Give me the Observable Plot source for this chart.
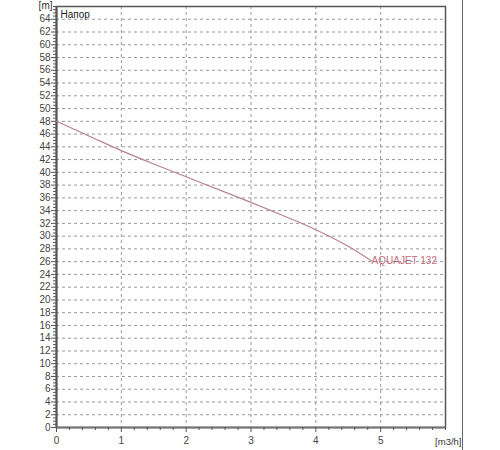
<!DOCTYPE html>
<html>
<head>
<meta charset="utf-8">
<script src="https://cdn.jsdelivr.net/npm/d3@7"></script>
<script src="https://cdn.jsdelivr.net/npm/@observablehq/plot@0.6"></script>
<style>
  html, body { margin: 0; padding: 0; background: #fff; }
  #wrap { position: relative; width: 500px; height: 450px; }
  #edge { position: absolute; left: 462px; top: 0; width: 0; height: 450px; border-left: 1.5px solid #666; }
</style>
</head>
<body>
<div id="wrap"><div id="edge"></div></div>
<script>
// Data
const flow = [0, 0.5, 1, 1.5, 2, 2.5, 3, 3.5, 4, 4.5, 4.86];
const head = [48, 45.7, 43.4, 41.3, 39.3, 37.3, 35.3, 33.2, 31.0, 28.4, 26.1];
const seriesName = "AQUAJET 132";
const yTicks = [0,2,4,6,8,10,12,14,16,18,20,22,24,26,28,30,32,34,36,38,40,42,44,46,48,50,52,54,56,58,60,62,64];
const xTicks = [0, 1, 2, 3, 4, 5];
const yLabel = "[m]";
const xLabel = "[m3/h]";
const chartTitle = "Напор";

const curve = flow.map((q, i) => ({q, h: head[i]}));
const yMinor = d3.range(0, 66.01, 0.5).filter(v => !yTicks.includes(v));
const xMinor = d3.range(0, 6.01, 0.2).map(v => +v.toFixed(2)).filter(v => !xTicks.includes(v));

const font = "Liberation Sans, Arial, sans-serif";
const chart = Plot.plot({
  width: 500,
  height: 450,
  marginLeft: 56,
  marginRight: 55,
  marginTop: 6,
  marginBottom: 23,
  style: {fontFamily: font, fontSize: "10px", color: "#333", background: "transparent"},
  x: {domain: [0, 6], label: null},
  y: {domain: [0, 66], label: null},
  marks: [
    Plot.ruleX(xTicks.filter(d => d > 0), {stroke: "#999", strokeDasharray: "3,3", strokeWidth: 1}),
    Plot.ruleY(yTicks.filter(d => d > 0), {stroke: "#999", strokeDasharray: "3,3", strokeWidth: 1}),
    Plot.frame({stroke: "#555", strokeWidth: 1.5}),
    Plot.ruleX([0], {stroke: "#555", strokeWidth: 2}),
    Plot.ruleY([0], {stroke: "#777", strokeWidth: 2}),
    Plot.axisY(yTicks, {tickSize: 5, tickPadding: 1, stroke: "#555", fill: "#444", fontSize: 10}),
    Plot.axisY(yMinor, {tickSize: 3, tickFormat: () => "", stroke: "#555"}),
    Plot.axisX(xTicks, {tickSize: 5, tickPadding: 4, stroke: "#555", fill: "#444", fontSize: 10}),
    Plot.axisX(xMinor, {tickSize: 3, tickFormat: () => "", stroke: "#555"}),
    Plot.line(curve, {x: "q", y: "h", stroke: "#b8848e", strokeWidth: 1.2, curve: "monotone-x"}),
    Plot.text([curve[curve.length - 1]], {x: "q", y: "h", text: () => seriesName, textAnchor: "start", fill: "#c06a78", fontSize: 10}),
    Plot.text([chartTitle], {frameAnchor: "top-left", dx: 4, dy: 4, fill: "#222", fontSize: 10}),
    Plot.text([yLabel], {frameAnchor: "top-left", dx: -4, dy: -1, textAnchor: "end", lineAnchor: "middle", fill: "#333", fontSize: 10}),
    Plot.text([xLabel], {frameAnchor: "bottom-right", dx: 16, dy: 14, textAnchor: "end", lineAnchor: "middle", fill: "#333", fontSize: 9.5})
  ]
});
document.getElementById("wrap").appendChild(chart);
chart.style.position = "absolute";
chart.style.left = "0";
chart.style.top = "0";
</script>
</body>
</html>
